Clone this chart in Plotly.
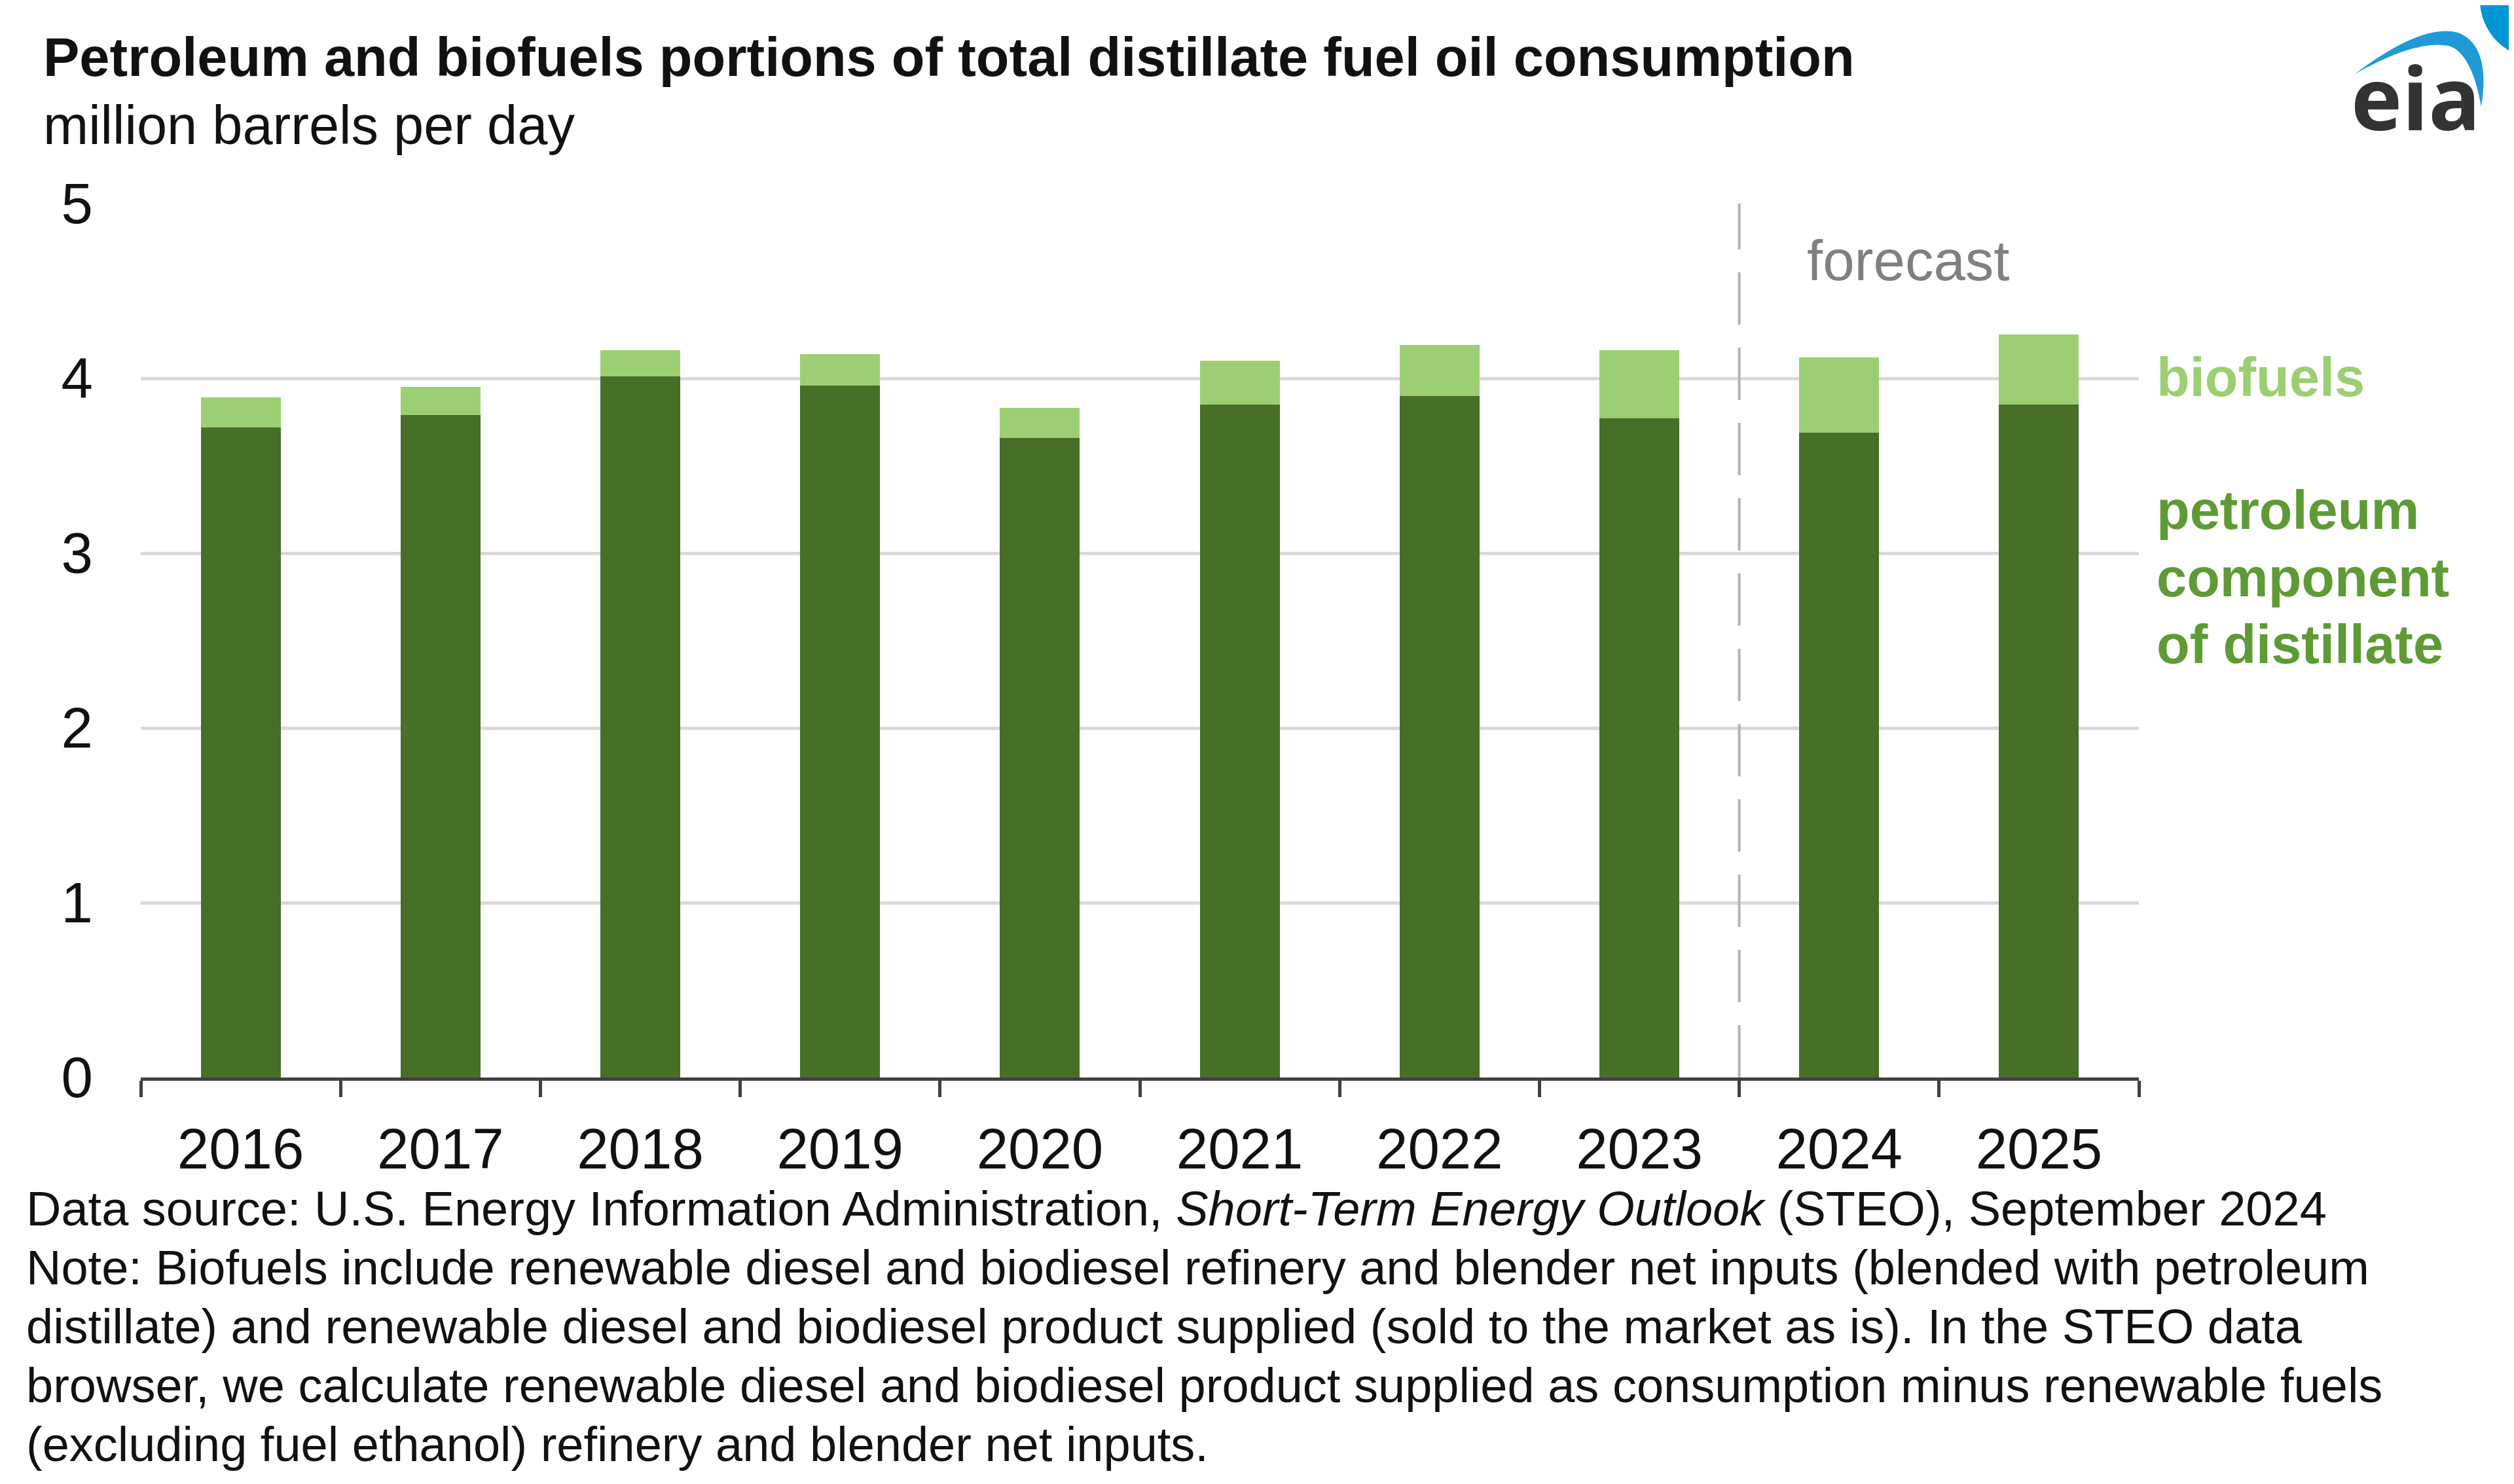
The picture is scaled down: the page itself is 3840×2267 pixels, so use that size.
import plotly.graph_objects as go

# ---- data ----
years = ["2016", "2017", "2018", "2019", "2020", "2021", "2022", "2023", "2024", "2025"]
petroleum = [3.72, 3.79, 4.01, 3.96, 3.66, 3.85, 3.90, 3.77, 3.69, 3.85]
biofuels = [0.17, 0.16, 0.15, 0.18, 0.17, 0.25, 0.29, 0.39, 0.43, 0.40]
y_ticks = [0, 1, 2, 3, 4, 5]

title_text = "Petroleum and biofuels portions of total distillate fuel oil consumption"
subtitle_text = "million barrels per day"
footer_lines = [
    "Data source: U.S. Energy Information Administration, <i>Short-Term Energy Outlook</i> (STEO), September 2024",
    "Note: Biofuels include renewable diesel and biodiesel refinery and blender net inputs (blended with petroleum",
    "distillate) and renewable diesel and biodiesel product supplied (sold to the market as is). In the STEO data",
    "browser, we calculate renewable diesel and biodiesel product supplied as consumption minus renewable fuels",
    "(excluding fuel ethanol) refinery and blender net inputs.",
]

# ---- layout geometry (screen pixels; page body has an 8px margin) ----
OFF = 8
W, H = 3840 - 2 * OFF, 2267 - 2 * OFF
PX0, PX1 = 215, 3267          # screen x of plot area
PY_TOP, PY_BOT = 311, 1646    # screen y of plot area


def xp(px):
    return (px - PX0) / (PX1 - PX0)


def yp(py):
    return (PY_BOT - py) / (PY_BOT - PY_TOP)


DARK = "#476F27"
LIGHT = "#9CCF74"
FONT = "Liberation Sans, Arial, sans-serif"

fig = go.Figure()
fig.add_trace(go.Bar(x=years, y=petroleum, name="petroleum component of distillate",
                     marker=dict(color=DARK, line=dict(width=0))))
fig.add_trace(go.Bar(x=years, y=biofuels, name="biofuels",
                     marker=dict(color=LIGHT, line=dict(width=0))))

fig.update_layout(
    width=W, height=H,
    margin=dict(l=PX0 - OFF, r=W - (PX1 - OFF), t=PY_TOP - OFF, b=H - (PY_BOT - OFF)),
    barmode="stack", bargap=0.6,
    plot_bgcolor="white", paper_bgcolor="white",
    showlegend=False,
    font=dict(family=FONT, color="#111111"),
)

fig.update_xaxes(
    type="category", range=[-0.5, 9.5],
    tickson="boundaries", ticks="outside", ticklen=25, tickwidth=5, tickcolor="#404040",
    showline=True, linecolor="#404040", linewidth=5,
    showgrid=False, tickfont=dict(size=87, color="#111111"),
    ticklabelstandoff=30,
)
fig.update_yaxes(
    range=[0, 5], tickvals=y_ticks, ticks="",
    showgrid=True, gridcolor="#D9D9D9", gridwidth=5, zeroline=False,
    showline=False, tickfont=dict(size=87, color="#111111"),
    ticklabelstandoff=72,
)

# forecast divider
fig.add_shape(type="line", xref="x", yref="y", x0=7.5, x1=7.5, y0=0, y1=5,
              line=dict(color="#B3B3B3", width=4, dash="80px,35px"))

# left border line
fig.add_shape(type="line", xref="paper", yref="paper", x0=xp(2), x1=xp(2), y0=yp(0), y1=yp(2267),
              line=dict(color="#555555", width=4))

# eia logo: arc + circle
fig.add_shape(type="path", xref="paper", yref="paper",
              path=("M {},{} Q {},{} {},{} Q {},{} {},{} Q {},{} {},{} Q {},{} {},{} Z").format(
                  xp(3597), yp(113), xp(3700), yp(35), xp(3755), yp(50),
                  xp(3805), yp(70), xp(3790), yp(163),
                  xp(3775), yp(80), xp(3740), yp(70),
                  xp(3690), yp(60), xp(3597), yp(113)),
              fillcolor="#1E9BD7", line=dict(width=0))
fig.add_shape(type="circle", xref="paper", yref="paper",
              x0=xp(3788), x1=xp(3970), y0=yp(-90), y1=yp(90),
              fillcolor="#0096D6", line=dict(width=0))

ann = []
ann.append(dict(text="<b>" + title_text + "</b>", x=xp(64), y=yp(88), xanchor="left", yanchor="middle",
                font=dict(size=83, color="#111111")))
ann.append(dict(text=subtitle_text, x=xp(64), y=yp(191), xanchor="left", yanchor="middle",
                font=dict(size=83, color="#111111")))
ann.append(dict(text="forecast", x=xp(2914), y=yp(397), xanchor="center", yanchor="middle",
                font=dict(size=87, color="#808080")))
ann.append(dict(text="<b>biofuels</b>", x=xp(3292), y=yp(576), xanchor="left", yanchor="middle",
                font=dict(size=83, color=LIGHT)))
for i, line in enumerate(["petroleum", "component", "of distillate"]):
    ann.append(dict(text="<b>" + line + "</b>", x=xp(3292), y=yp(779 + 103 * i), xanchor="left",
                    yanchor="middle", font=dict(size=83, color="#5E9B35")))
ann.append(dict(text="<b>eia</b>", x=xp(3690), y=yp(148), xanchor="center", yanchor="middle",
                font=dict(size=132, color="#333333", family="Open Sans, sans-serif")))
for i, line in enumerate(footer_lines):
    ann.append(dict(text=line, x=xp(38), y=yp(1846 + 90 * i), xanchor="left", yanchor="middle",
                    font=dict(size=74, color="#111111")))

for a in ann:
    a.update(xref="paper", yref="paper", showarrow=False)
fig.update_layout(annotations=ann)

fig.write_html("out.html")
